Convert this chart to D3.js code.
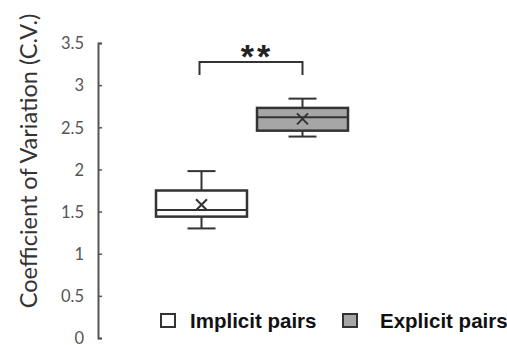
<!DOCTYPE html>
<html><head><meta charset="utf-8">
<script src="https://cdn.jsdelivr.net/npm/d3@7"></script>
<style>body{margin:0;background:#fff}</style>
</head><body>
<svg id="c" width="507" height="345"></svg>
<script>
const categories = ["Implicit pairs", "Explicit pairs"];
const whiskerLow = [1.30, 2.39];
const q1 = [1.44, 2.46];
const median = [1.52, 2.62];
const q3 = [1.75, 2.73];
const whiskerHigh = [1.98, 2.84];
const mean = [1.58, 2.60];
const fills = ["#ffffff", "#a6a6a6"];
const yTicks = [0, 0.5, 1, 1.5, 2, 2.5, 3, 3.5];
const sigLabel = "**";

const svg = d3.select("#c");
const y = d3.scaleLinear().domain([0, 3.5]).range([338, 43]);
const x = d3.scaleBand().domain(categories).range([105.5, 398.5]).paddingInner(0.099).paddingOuter(0.5);

// y axis
const ax = svg.append("g").attr("transform", "translate(98,0)")
  .call(d3.axisRight(y).tickValues(yTicks).tickSize(4).tickSizeOuter(4).tickFormat(d3.format("")));
ax.select(".domain").attr("stroke", "#555").attr("stroke-width", 2);
ax.selectAll(".tick line").attr("stroke", "#555").attr("stroke-width", 1.5);
ax.selectAll(".tick text").attr("x", -14).attr("text-anchor", "end").attr("dy", "0.35em")
  .attr("fill", "#555").attr("font-family", "Lato, sans-serif").attr("font-size", 16.5);

svg.append("text").attr("transform", "translate(37,161) rotate(-90)")
  .attr("text-anchor", "middle").attr("font-family", "Lato, sans-serif")
  .attr("font-size", 23.5).attr("fill", "#333").text("Coefficient of Variation (C.V.)");

const stroke = "#333";
categories.forEach((c, i) => {
  const x0 = x(c), w = x.bandwidth(), cx = x0 + w / 2, cap = 14;
  const g = svg.append("g");
  g.append("line").attr("x1", cx).attr("x2", cx).attr("y1", y(whiskerHigh[i])).attr("y2", y(q3[i])).attr("stroke", stroke).attr("stroke-width", 2);
  g.append("line").attr("x1", cx).attr("x2", cx).attr("y1", y(q1[i])).attr("y2", y(whiskerLow[i])).attr("stroke", stroke).attr("stroke-width", 2);
  g.append("line").attr("x1", cx - cap).attr("x2", cx + cap).attr("y1", y(whiskerHigh[i])).attr("y2", y(whiskerHigh[i])).attr("stroke", stroke).attr("stroke-width", 2);
  g.append("line").attr("x1", cx - cap).attr("x2", cx + cap).attr("y1", y(whiskerLow[i])).attr("y2", y(whiskerLow[i])).attr("stroke", stroke).attr("stroke-width", 2);
  g.append("rect").attr("x", x0).attr("width", w).attr("y", y(q3[i])).attr("height", y(q1[i]) - y(q3[i]))
    .attr("fill", fills[i]).attr("stroke", stroke).attr("stroke-width", 2.5);
  g.append("line").attr("x1", x0).attr("x2", x0 + w).attr("y1", y(median[i])).attr("y2", y(median[i])).attr("stroke", stroke).attr("stroke-width", 2);
  const my = y(mean[i]), s = 5.5;
  g.append("path").attr("d", `M${cx - s},${my - s}L${cx + s},${my + s}M${cx - s},${my + s}L${cx + s},${my - s}`)
    .attr("stroke", stroke).attr("stroke-width", 2);
});

// significance bracket
const bx1 = x(categories[0]) + x.bandwidth() / 2 - 2, bx2 = x(categories[1]) + x.bandwidth() / 2;
svg.append("path").attr("d", `M${bx1},75V62H${bx2}V75`).attr("fill", "none").attr("stroke", stroke).attr("stroke-width", 2);
svg.append("text").attr("x", (bx1 + bx2) / 2 + 6).attr("y", 68).attr("text-anchor", "middle")
  .attr("font-family", "Liberation Sans, Arial, sans-serif").attr("font-weight", "bold").attr("font-size", 34)
  .attr("letter-spacing", 3).attr("fill", "#222").text(sigLabel);

// legend
const lx = [161, 343], tx = [190, 380];
categories.forEach((c, i) => {
  svg.append("rect").attr("x", lx[i]).attr("y", 314).attr("width", 14).attr("height", 13)
    .attr("fill", fills[i]).attr("stroke", stroke).attr("stroke-width", 2);
  svg.append("text").attr("x", tx[i]).attr("y", 328).attr("font-family", "Liberation Sans, Arial, sans-serif")
    .attr("font-weight", "bold").attr("font-size", 20.5).attr("fill", "#111").text(c);
});
</script>
</body></html>
